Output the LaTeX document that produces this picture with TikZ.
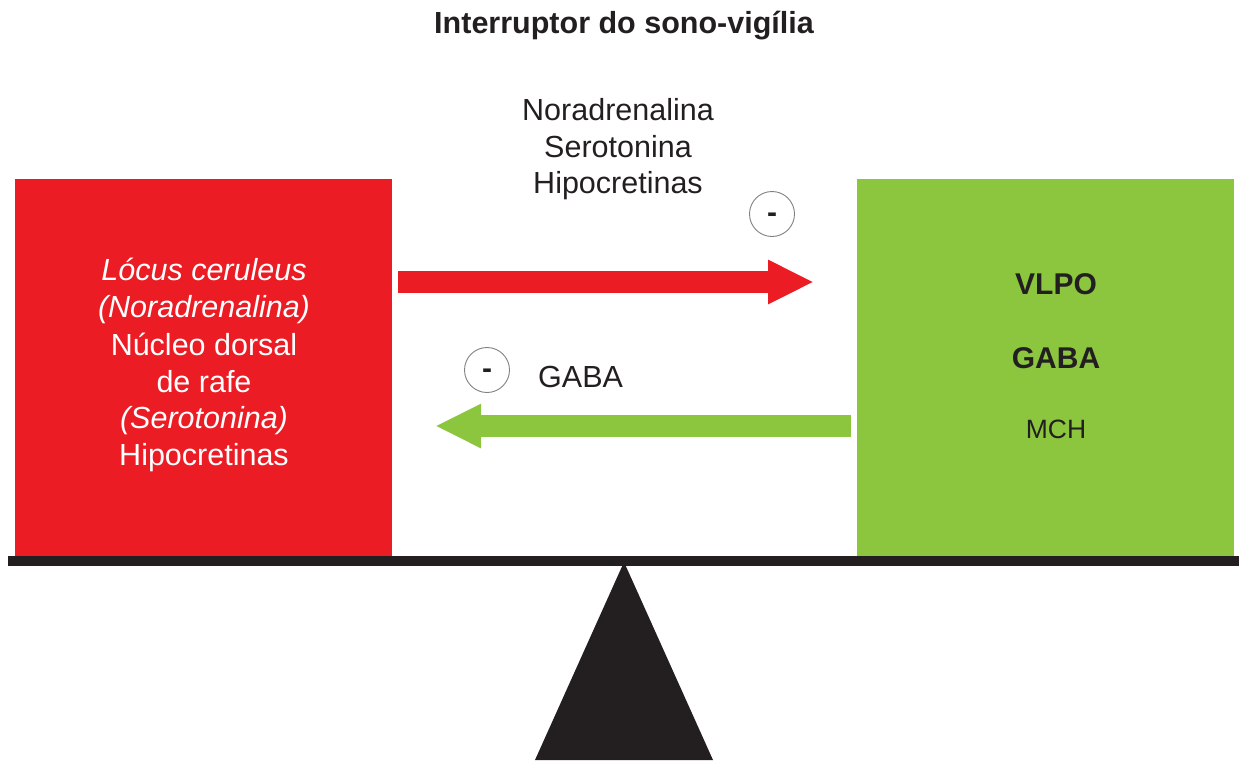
\documentclass[tikz,border=0pt]{standalone}
\usepackage{fontspec}
\setmainfont{Liberation Sans}
\usetikzlibrary{arrows.meta}
\definecolor{boxred}{HTML}{EC1C24}
\definecolor{boxgreen}{HTML}{8CC63F}
\definecolor{ink}{HTML}{231F20}
\tikzset{
  txt/.style={anchor=base, inner sep=0pt, text=ink, font=\fontsize{30.5}{37}\selectfont},
  wtxt/.style={txt, text=white},
  itxt/.style={wtxt, font=\fontsize{30.5}{37}\selectfont\itshape},
  btxt/.style={txt, font=\fontsize{30}{37}\selectfont\bfseries},
  box/.style={draw=none, inner sep=0pt, minimum width=377pt, minimum height=377pt},
  signcirc/.style={circle, draw=black!50, line width=0.9pt, minimum size=45pt, inner sep=0pt, font=\fontsize{30}{30}\selectfont\bfseries, text=ink},
  fatarrow/.style={line width=22pt, -{Triangle[length=46pt, width=41pt]}},
}
\newcommand{\minussign}{\raisebox{-0.28em}[0pt][0pt]{-}}
\begin{document}
\begin{tikzpicture}[x=1pt, y=-1pt]
\useasboundingbox (0,0) rectangle (1239,760);
% title
\node[btxt, font=\fontsize{30.5}{37}\selectfont\bfseries] (title) at (624,34) {Interruptor do sono-vigília};
% boxes
\node[box, fill=boxred, anchor=north west] (red) at (15,179) {};
\node[box, fill=boxgreen, anchor=north west] (green) at (857,179) {};
% balance bar and fulcrum
\coordinate (barL) at (8,561);
\coordinate (barR) at (1239,561);
\draw[line width=10pt, draw=ink] (barL) -- (barR);
\coordinate (apex) at (624,562);
\coordinate (baseL) at (535,760);
\coordinate (baseR) at (713,760);
\fill[ink] (apex) -- (baseL) -- (baseR) -- cycle;
% red box text
\node[itxt] (l1) at (204,280) {Lócus ceruleus};
\node[itxt] (l2) at (204,317) {(Noradrenalina)};
\node[wtxt] (l3) at (204,355) {Núcleo dorsal};
\node[wtxt] (l4) at (204,392) {de rafe};
\node[itxt] (l5) at (204,428) {(Serotonina)};
\node[wtxt] (l6) at (204,465) {Hipocretinas};
% green box text
\node[btxt] (g1) at (1056,294) {VLPO};
\node[btxt] (g2) at (1056,368) {GABA};
\node[txt, font=\fontsize{26.5}{30}\selectfont] (g3) at (1056,438) {MCH};
% top labels
\node[txt] (t1) at (618,120) {Noradrenalina};
\node[txt] (t2) at (618,157) {Serotonina};
\node[txt] (t3) at (618,193) {Hipocretinas};
\node[signcirc] (m1) at (772,214) {\minussign};
% bottom labels
\node[signcirc] (m2) at (487,370) {\minussign};
\node[txt, anchor=base west] (gaba) at (538,387) {GABA};
% arrows
\coordinate (rs) at (398,282);
\coordinate (re) at (814,282);
\draw[fatarrow, draw=boxred, fill=boxred] (rs) -- (re);
\coordinate (gs) at (851,426);
\coordinate (ge) at (435,426);
\draw[fatarrow, draw=boxgreen, fill=boxgreen] (gs) -- (ge);
\end{tikzpicture}
\end{document}
